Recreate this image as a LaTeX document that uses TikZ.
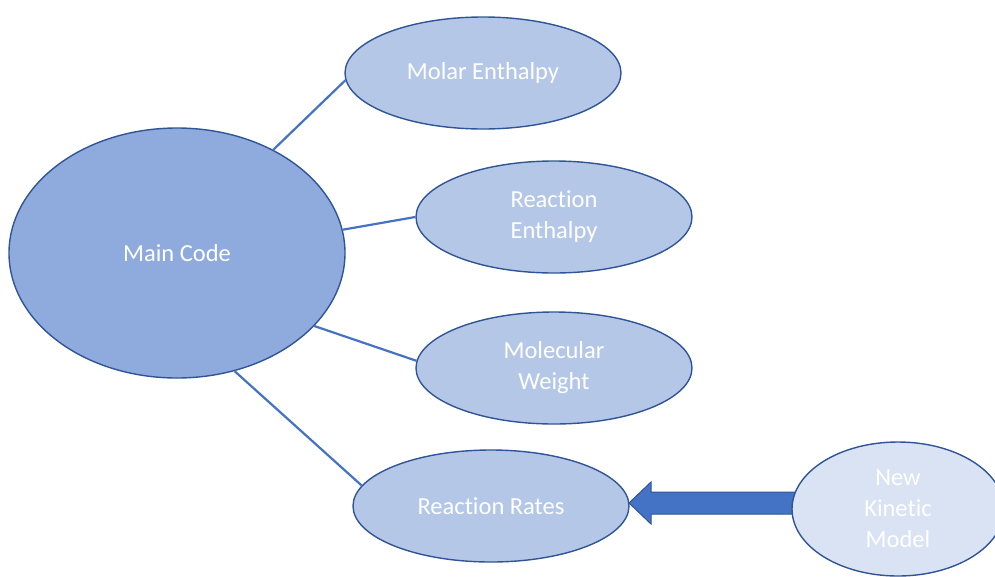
\documentclass[tikz,border=0pt]{standalone}
\usepackage{fontspec}
\setmainfont{Carlito}[Ligatures=NoCommon]
\usetikzlibrary{shapes.geometric}
\definecolor{mainfill}{HTML}{8FAADC}
\definecolor{childfill}{HTML}{B4C7E7}
\definecolor{newfill}{HTML}{DAE3F3}
\definecolor{edge}{HTML}{2F5597}
\definecolor{link}{HTML}{4472C4}
\tikzset{
  bubble/.style={ellipse, draw=edge, line width=1.4pt, inner sep=0pt, text=white,
    align=center, font=\fontsize{24.5}{31}\selectfont},
  child/.style={bubble, fill=childfill, minimum width=276pt, minimum height=112pt},
  conn/.style={draw=link, line width=2.2pt},
}
\begin{document}
\begin{tikzpicture}[x=1pt,y=-1pt]
\useasboundingbox (0,0) rectangle (995,576);
\clip (0,0) rectangle (995,576);
\node[bubble, fill=mainfill, minimum width=336pt, minimum height=250pt] (main) at (177,253) {Main Code};
\node[child] (molar) at (483,73) {Molar Enthalpy};
\node[child] (renth) at (554,217) {Reaction\\Enthalpy};
\node[child] (mw) at (554,368) {Molecular\\Weight};
\node[child] (rr) at (491,506) {Reaction Rates};
\draw[conn] (main.47) -- (molar.183);
\draw[conn] (main.8) -- (renth.180);
\draw[conn] (main.-28) -- (mw.177);
\draw[conn] (main.-64) -- (rr.171);
\draw[fill=link, draw=edge, line width=1pt]
  (810,492) -- (651,492) -- (651,482) -- (629,503) -- (651,524) -- (651,514) -- (810,514) -- cycle;
\node[bubble, fill=newfill, minimum width=212pt, minimum height=134pt] (nkm) at (898,509) {New\\Kinetic\\Model};
\end{tikzpicture}
\end{document}
